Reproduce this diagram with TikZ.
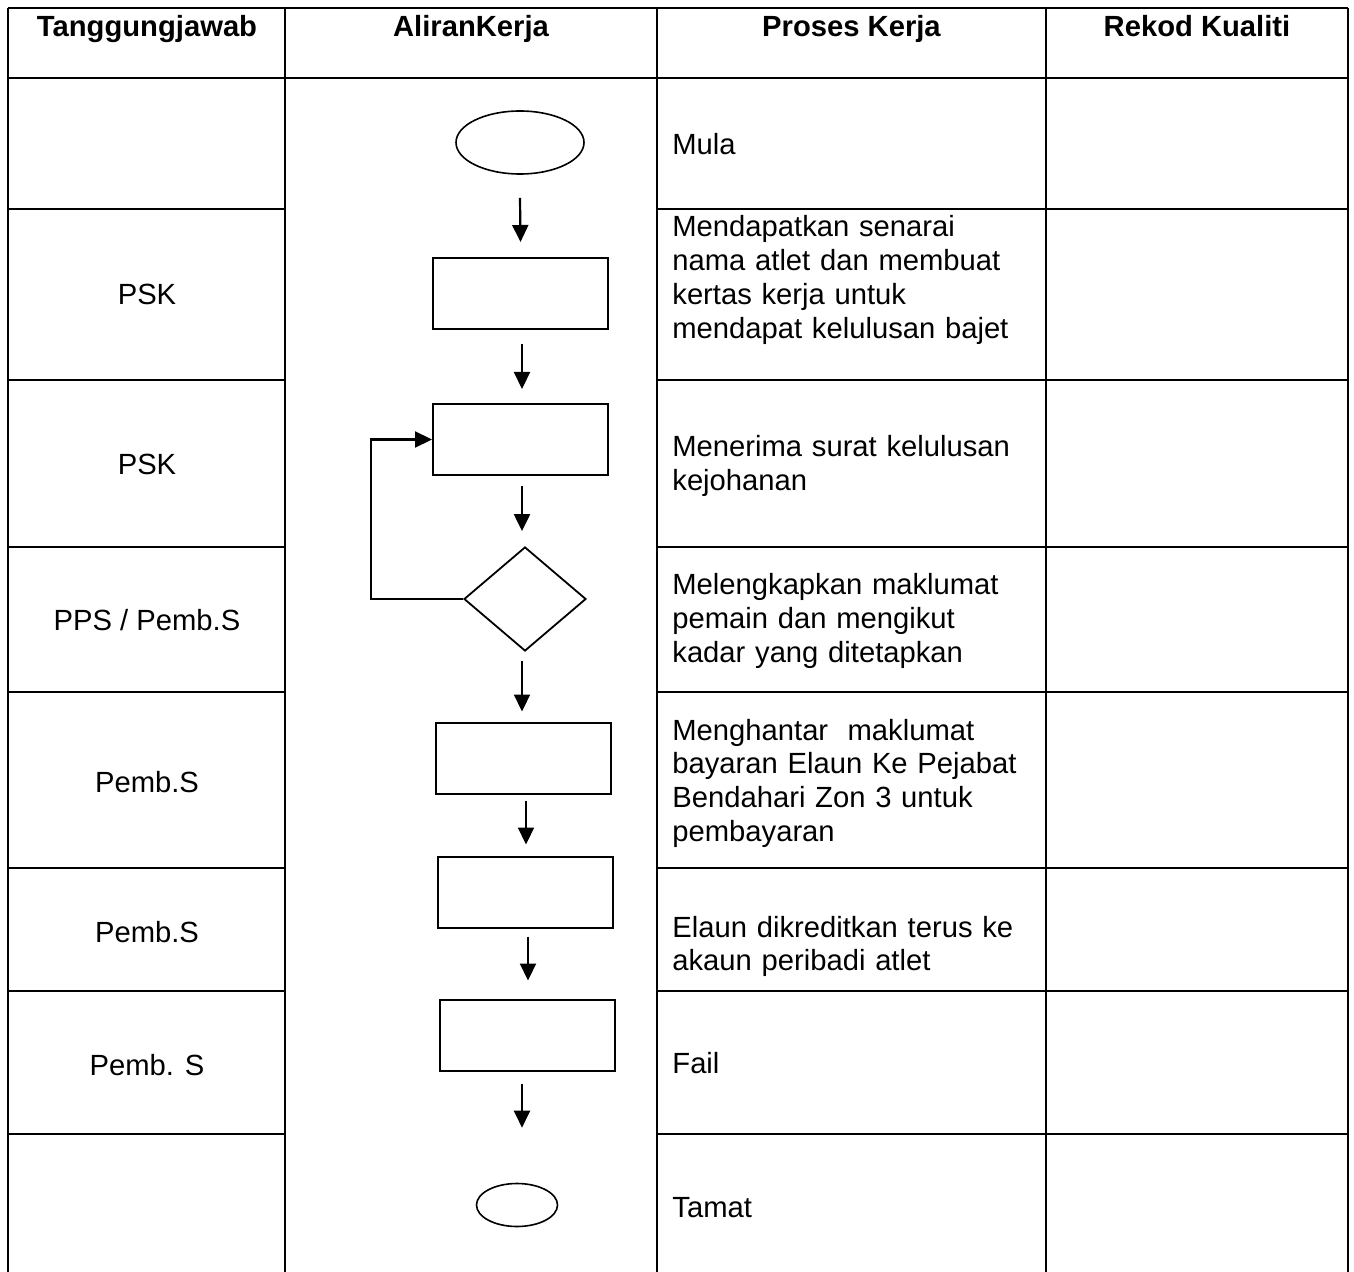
\documentclass[tikz,border=0pt]{standalone}
\usepackage{fontspec}
\setmainfont{Liberation Sans}
\usetikzlibrary{shapes.geometric,arrows.meta,calc}
\begin{document}
\begin{tikzpicture}[x=0.5pt,y=-0.5pt,
  tabline/.style={line width=1.4pt},
  procbox/.style={draw,line width=1pt,rectangle,minimum width=87.5pt,minimum height=35.5pt,inner sep=0pt},
  term/.style={draw,line width=0.8pt,ellipse,inner sep=0pt},
  decide/.style={draw,line width=0.9pt,diamond,minimum width=61pt,minimum height=52pt,inner sep=0pt},
  arr/.style={line width=1.1pt,-{Triangle[length=8.5pt,width=8pt]}},
  hdr/.style={font=\fontsize{14.6}{17}\selectfont\bfseries,anchor=base,inner sep=0pt},
  who/.style={font=\fontsize{14.6}{17}\selectfont,anchor=base,inner sep=0pt},
  desc/.style={font=\fontsize{14.6}{16.85}\selectfont,anchor=base west,inner sep=0pt,text width=185pt,align=left},
]
\useasboundingbox (0,0) rectangle (1354,1272);
\fill[white] (0,0) rectangle (1354,1272);
% table
\draw[tabline] (8,8) -- (1348,8);
\draw[tabline] (8,78) -- (1348,78);
\foreach \yy in {209,380,547,692,868,991,1134}{
  \draw[tabline] (8,\yy) -- (285,\yy);
  \draw[tabline] (657,\yy) -- (1348,\yy);
}
\foreach \xx in {8,285,657,1046,1348}{
  \draw[tabline] (\xx,8) -- (\xx,1272);
}
% headers
\node[hdr] (hT) at (147,37) {Tanggungjawab};
\node[hdr] (hA) at (471,37) {AliranKerja};
\node[hdr] (hP) at (851.5,37) {Proses Kerja};
\node[hdr] (hR) at (1197,37) {Rekod Kualiti};
% responsibility column
\node[who] (l1) at (147,305) {PSK};
\node[who] (l2) at (147,475) {PSK};
\node[who] (l3) at (147,630) {PPS / Pemb.S};
\node[who] (l4) at (147,792) {Pemb.S};
\node[who] (l5) at (147,942) {Pemb.S};
\node[who] (l6) at (147,1075) {Pemb. S};
% process column
\node[desc] (p0) at (672,155) {Mula};
\node[desc] (p1) at (672,237) {Mendapatkan senarai\\nama atlet dan membuat\\kertas kerja untuk\\mendapat kelulusan bajet};
\node[desc] (p2) at (672,457) {Menerima surat kelulusan\\kejohanan};
\node[desc] (p3) at (672,595) {Melengkapkan maklumat\\pemain dan mengikut\\kadar yang ditetapkan};
\node[desc] (p4) at (672,740) {Menghantar\ \ maklumat\\bayaran Elaun Ke Pejabat\\Bendahari Zon 3 untuk\\pembayaran};
\node[desc] (p5) at (672,937) {Elaun dikreditkan terus ke\\akaun peribadi atlet};
\node[desc] (p6) at (672,1073) {Fail};
\node[desc] (p7) at (672,1217) {Tamat};
% flow
\node[term,minimum width=64pt,minimum height=31.5pt] (s) at (520,142.5) {};
\node[procbox] (b1) at (520.5,293.5) {};
\node[procbox] (b2) at (520.5,439.5) {};
\node[decide] (d) at (525,599) {};
\node[procbox] (b4) at (523,758) {};
\node[procbox] (b5) at (525,892) {};
\node[procbox] (b6) at (527.5,1035) {};
\node[term,minimum width=40.5pt,minimum height=21.5pt] (e) at (517,1205) {};
\coordinate (lc) at (371,599);
\draw[arr] ($(s.south)+(0,23)$) -- ($(b1.north)+(0,-15)$);
\draw[arr] ($(b1.south)+(1.5,14)$) -- ($(b2.north)+(1.5,-14)$);
\draw[arr] ($(b2.south)+(1.5,10)$) -- ($(d.north)+(-3,-15)$);
\draw[arr] ($(d.south)+(-3,9)$) -- ($(b4.north)+(-1,-10)$);
\draw[arr] ($(b4.south)+(3,6)$) -- ($(b5.north)+(1,-11)$);
\draw[arr] ($(b5.south)+(3,8)$) -- ($(b6.north)+(0.5,-18)$);
\draw[arr] ($(b6.south)+(-5.5,12)$) -- ($(e.north)+(5,-55)$);
\draw[arr] (d.west) -- (lc) |- (b2.west);
\end{tikzpicture}
\end{document}
